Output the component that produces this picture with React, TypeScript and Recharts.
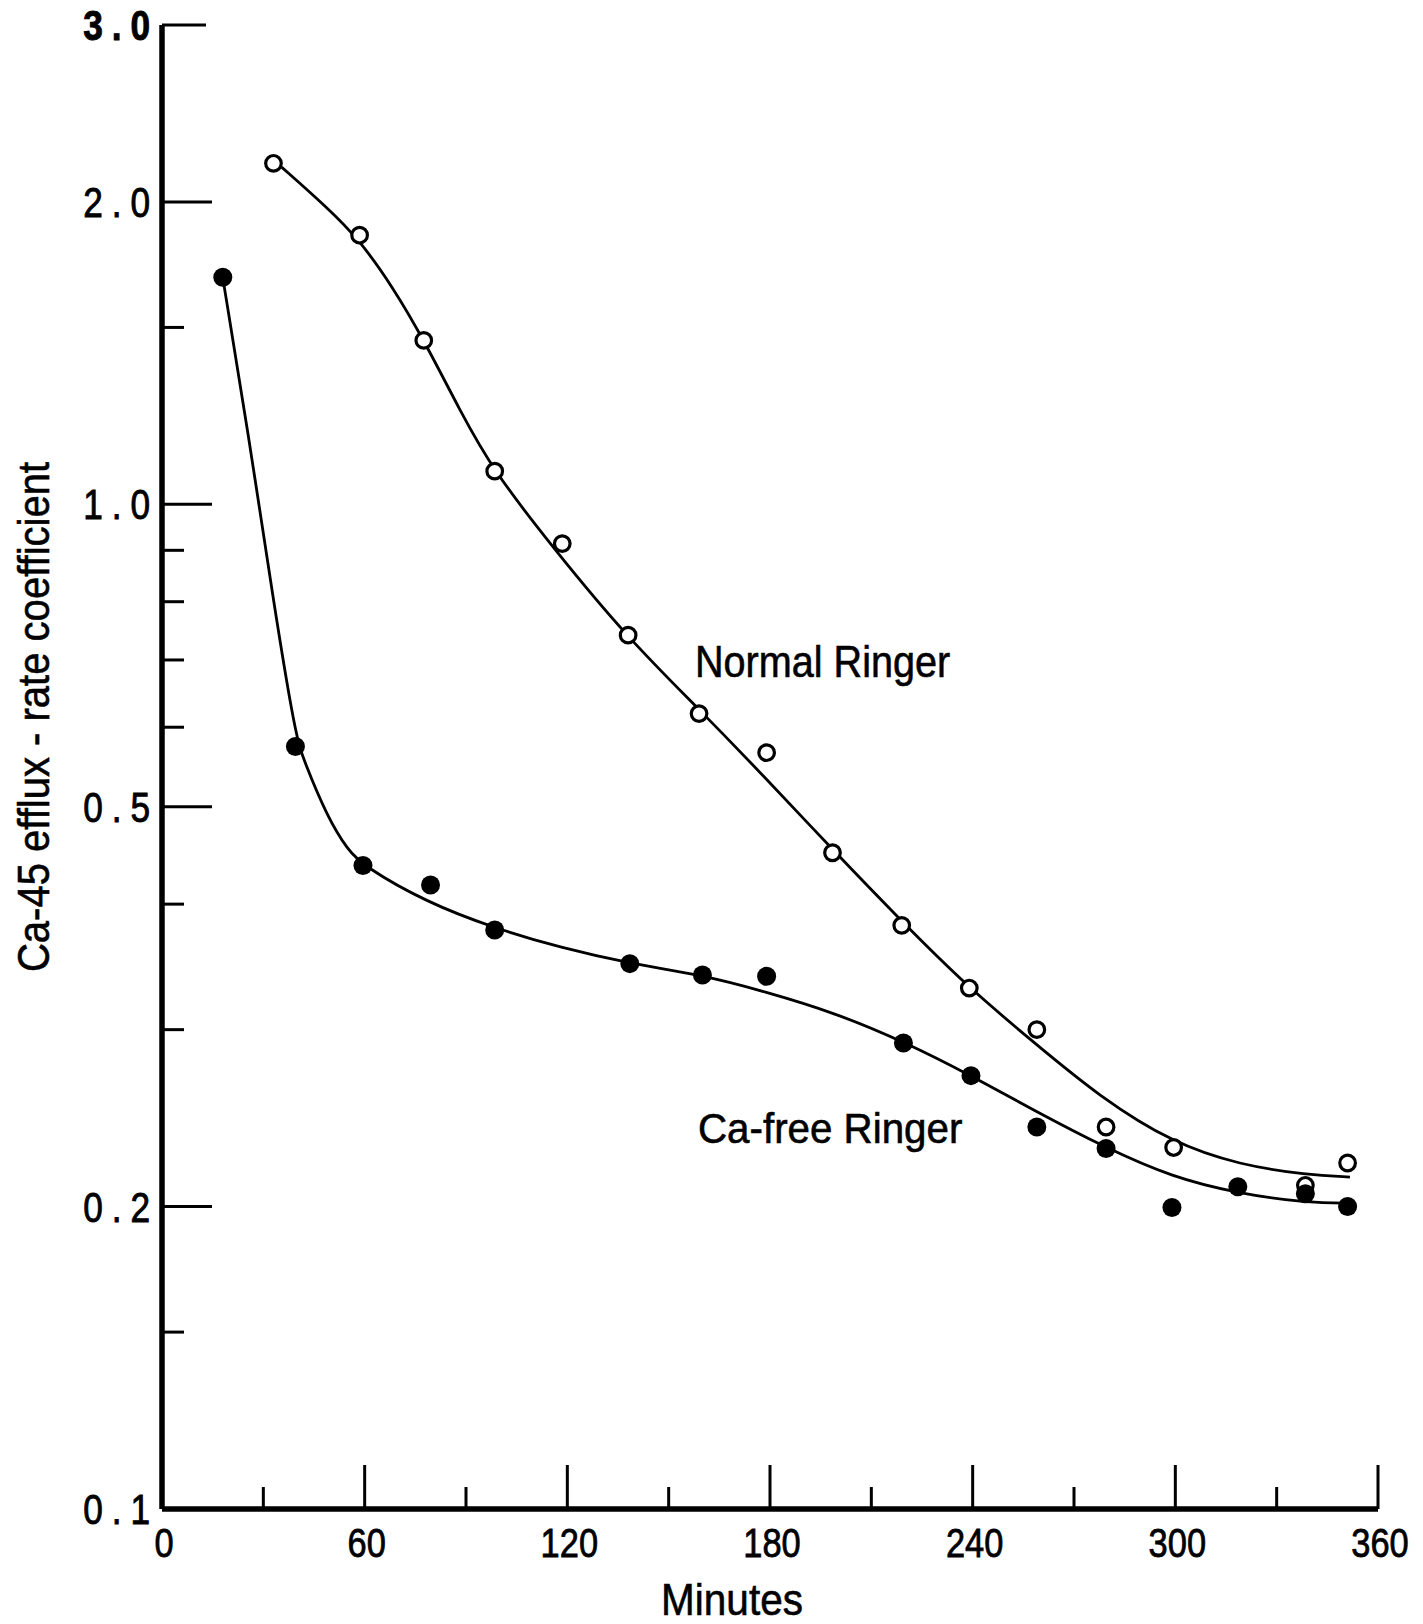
import React from 'react'
import { ComposedChart, Line, Scatter, XAxis, YAxis, Customized } from 'recharts'

const FONT = "'Liberation Sans', Arial, sans-serif"

// Normal Ringer: measured points (open circles)
const normalMinutes = [33, 58.5, 77.5, 98.5, 118.5, 138, 159, 179, 198.5, 219, 239, 259, 279.5, 299.5, 338.5, 351]
const normalRate = [2.185, 1.853, 1.456, 1.079, 0.914, 0.741, 0.619, 0.566, 0.45, 0.381, 0.33, 0.3, 0.24, 0.229, 0.21, 0.221]

// Ca-free Ringer: measured points (filled circles)
const caFreeMinutes = [18, 39.5, 59.5, 79.5, 98.5, 138.5, 160, 179, 219.5, 239.5, 259, 279.5, 299, 318.5, 338.5, 351]
const caFreeRate = [1.683, 0.574, 0.437, 0.418, 0.377, 0.349, 0.34, 0.339, 0.291, 0.27, 0.24, 0.2285, 0.1996, 0.2093, 0.206, 0.2]

// smooth curves drawn through each set
const normalCurveMinutes = [35.4, 48.8, 58.6, 68.4, 77.6, 88.2, 98, 115.7, 137.7, 159.3, 177.9, 198.6, 218.5, 238.9, 257.8, 277.7, 299.3, 319.1, 339, 351.7]
const normalCurveRate = [2.166, 1.976, 1.831, 1.644, 1.456, 1.24, 1.081, 0.906, 0.737, 0.624, 0.5375, 0.453, 0.386, 0.33, 0.292, 0.257, 0.2313, 0.22, 0.215, 0.214]
const caFreeCurveMinutes = [18, 25.5, 33, 39.5, 42, 49, 55, 59.5, 78, 99, 118, 138.5, 160, 179, 199, 220, 239.5, 258, 279.5, 299, 318, 339, 352]
const caFreeCurveRate = [1.68, 1.18, 0.8, 0.589, 0.556, 0.488, 0.453, 0.437, 0.402, 0.378, 0.362, 0.349, 0.34, 0.327, 0.312, 0.2915, 0.27, 0.2495, 0.2287, 0.214, 0.2063, 0.2016, 0.2016]

const xTicks = [0, 30, 60, 90, 120, 150, 180, 210, 240, 270, 300, 330, 360]
const xLabeled = [0, 60, 120, 180, 240, 300, 360]
const yTicks = [0.1, 0.15, 0.2, 0.3, 0.4, 0.5, 0.6, 0.7, 0.8, 0.9, 1, 1.5, 2, 3]
const yLabels: Record<string, string> = { '0.1': '0.1', '0.2': '0.2', '0.5': '0.5', '1': '1.0', '2': '2.0', '3': '3.0' }

const zip = (t: number[], v: number[]) => t.map((m, i) => ({ t: m, v: v[i] }))

const normalPoints = zip(normalMinutes, normalRate)
const caFreePoints = zip(caFreeMinutes, caFreeRate)
const normalCurve = zip(normalCurveMinutes, normalCurveRate)
const caFreeCurve = zip(caFreeCurveMinutes, caFreeCurveRate)

// the typeface on this figure is a condensed sans, so squeeze text horizontally
const Narrow = ({ x, y, sx, rotate, children, ...rest }: any) => (
	<text
		x={0}
		y={0}
		transform={`translate(${x} ${y})${rotate ? ` rotate(${rotate})` : ''} scale(${sx} 1)`}
		fontFamily={FONT}
		fill="#000"
		{...rest}
	>
		{children}
	</text>
)

const XTick = ({ x, y, payload }: any) => {
	const major = xLabeled.includes(payload.value)
	return (
		<g>
			<line x1={x} x2={x} y1={y} y2={y - (major ? 44 : 22)} stroke="#000" strokeWidth={3} />
			{major && (
				<Narrow x={x + 2} y={y + 48} sx={0.84} textAnchor="middle" fontSize={41} stroke="#000" strokeWidth={0.8}>
					{payload.value}
				</Narrow>
			)}
		</g>
	)
}

// decimal labels are set wide, with a roomy point; spacing trails the last glyph too
const Y_SPACING = 10.5

const YTick = ({ x, y, payload }: any) => {
	const label = yLabels[String(payload.value)]
	const len = label ? (payload.value === 3 ? 44 : 50) : 22
	return (
		<g>
			<line x1={x} x2={x + len} y1={y} y2={y} stroke="#000" strokeWidth={3} />
			{label && (
				<Narrow
					x={x - 12 + Y_SPACING * 0.84}
					y={y + 15}
					sx={0.84}
					textAnchor="end"
					fontSize={42}
					letterSpacing={Y_SPACING}
					fontWeight={payload.value === 3 ? 'bold' : 'normal'}
					stroke="#000"
					strokeWidth={0.9}
				>
					{label}
				</Narrow>
			)}
		</g>
	)
}

const OpenDot = ({ cx, cy }: any) => <circle cx={cx} cy={cy} r={7.8} fill="#fff" stroke="#000" strokeWidth={3.2} />
const FilledDot = ({ cx, cy }: any) => <circle cx={cx} cy={cy} r={9.5} fill="#000" />

const Titles = () => (
	<g stroke="#000" strokeWidth={0.6}>
		<Narrow x={695} y={677} sx={0.9} fontSize={44}>Normal Ringer</Narrow>
		<Narrow x={698} y={1143} sx={0.96} fontSize={42}>Ca-free Ringer</Narrow>
		<Narrow x={732} y={1615} sx={0.9} fontSize={45} textAnchor="middle">Minutes</Narrow>
		<Narrow x={49} y={717} sx={0.91} rotate={-90} fontSize={44} textAnchor="middle">
			Ca-45 efflux - rate coefficient
		</Narrow>
	</g>
)

export default function App() {
	return (
		<div style={{ position: 'absolute', left: 0, top: 0, background: '#fff' }}>
			<ComposedChart width={1423} height={1624} margin={{ top: 25, right: 45, bottom: 35, left: 42 }}>
				<XAxis
					dataKey="t"
					type="number"
					domain={[0, 360]}
					ticks={xTicks}
					interval={0}
					height={80}
					tickSize={0}
					tickMargin={0}
					tickLine={false}
					axisLine={{ stroke: '#000', strokeWidth: 5.5 }}
					tick={<XTick />}
					allowDataOverflow
				/>
				<YAxis
					dataKey="v"
					type="number"
					scale="log"
					domain={[0.1, 3]}
					ticks={yTicks}
					interval={0}
					width={120}
					tickSize={0}
					tickMargin={0}
					tickLine={false}
					axisLine={{ stroke: '#000', strokeWidth: 5.5 }}
					tick={<YTick />}
					allowDataOverflow
				/>
				<Line
					data={normalCurve}
					dataKey="v"
					type="basis"
					stroke="#000"
					strokeWidth={2.8}
					dot={false}
					activeDot={false}
					isAnimationActive={false}
				/>
				<Line
					data={caFreeCurve}
					dataKey="v"
					type="basis"
					stroke="#000"
					strokeWidth={2.8}
					dot={false}
					activeDot={false}
					isAnimationActive={false}
				/>
				<Scatter data={normalPoints} dataKey="v" shape={<OpenDot />} isAnimationActive={false} />
				<Scatter data={caFreePoints} dataKey="v" shape={<FilledDot />} isAnimationActive={false} />
				<Customized component={<Titles />} />
			</ComposedChart>
		</div>
	)
}
